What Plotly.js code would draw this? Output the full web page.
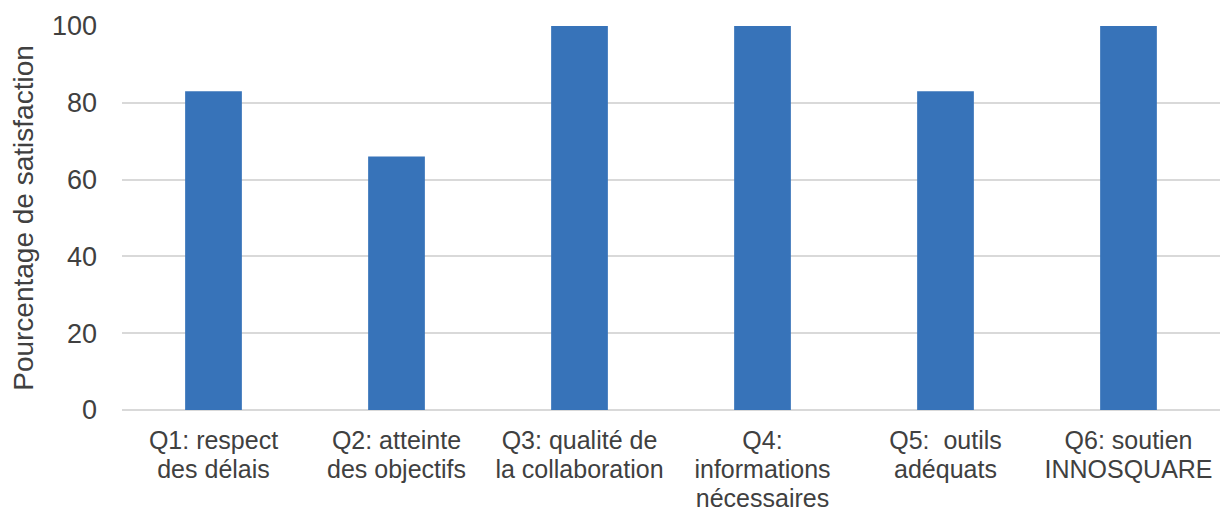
<!DOCTYPE html>
<html>
<head>
<meta charset="utf-8">
<script src="https://cdn.plot.ly/plotly-3.0.1.min.js"></script>
<style>html,body{margin:0;padding:0;background:#fff;}#chart{width:1221px;height:511px;}</style>
</head>
<body>
<div id="chart"></div>
<script>
const categories = ["Q1", "Q2", "Q3", "Q4", "Q5", "Q6"];
const tickLabels = [
  "Q1: respect<br>des délais",
  "Q2: atteinte<br>des objectifs",
  "Q3: qualité de<br>la collaboration",
  "Q4:<br>informations<br>nécessaires",
  "Q5: \u00a0outils<br>adéquats",
  "Q6: soutien<br>INNOSQUARE"
];
const satisfaction = [83, 66, 100, 100, 83, 100];
const yTicks = [0, 20, 40, 60, 80, 100];

const FONT = "Liberation Sans, Arial, sans-serif";
const TXT = "#404040";

const trace = {
  type: "bar",
  x: categories,
  y: satisfaction,
  marker: { color: "#3773B9" },
  hoverinfo: "none"
};

const layout = {
  width: 1221,
  height: 511,
  margin: { l: 122, r: 1, t: 26, b: 101, pad: 0 },
  paper_bgcolor: "#ffffff",
  plot_bgcolor: "#ffffff",
  bargap: 0.69,
  showlegend: false,
  font: { family: FONT, color: TXT },
  xaxis: {
    type: "category",
    tickmode: "array",
    tickvals: categories,
    ticktext: tickLabels,
    tickfont: { size: 25, color: TXT, family: FONT },
    showgrid: false,
    showline: false,
    ticks: "",
    ticklabelstandoff: 13,
    automargin: false,
    fixedrange: true
  },
  yaxis: {
    range: [0, 100],
    tickmode: "array",
    tickvals: yTicks,
    tickfont: { size: 27, color: TXT, family: FONT },
    showgrid: true,
    gridcolor: "#d9d9d9",
    gridwidth: 2,
    zeroline: true,
    zerolinecolor: "#d9d9d9",
    zerolinewidth: 2,
    showline: false,
    ticks: "",
    ticklabelstandoff: 24,
    automargin: false,
    fixedrange: true,
    title: { text: "Pourcentage de satisfaction", font: { size: 28, color: TXT, family: FONT }, standoff: 10 }
  }
};

Plotly.newPlot("chart", [trace], layout, { staticPlot: true, displayModeBar: false }).then(function () {
  // tighten line spacing of multi-line category labels (Excel-like ~1.16em)
  document.querySelectorAll(".xtick text").forEach(function (t) {
    t.querySelectorAll("tspan.line").forEach(function (ln) {
      const dy = parseFloat(ln.getAttribute("dy") || "0");
      if (dy) ln.setAttribute("dy", (dy * 1.16 / 1.3) + "em");
    });
  });
});
</script>
</body>
</html>
